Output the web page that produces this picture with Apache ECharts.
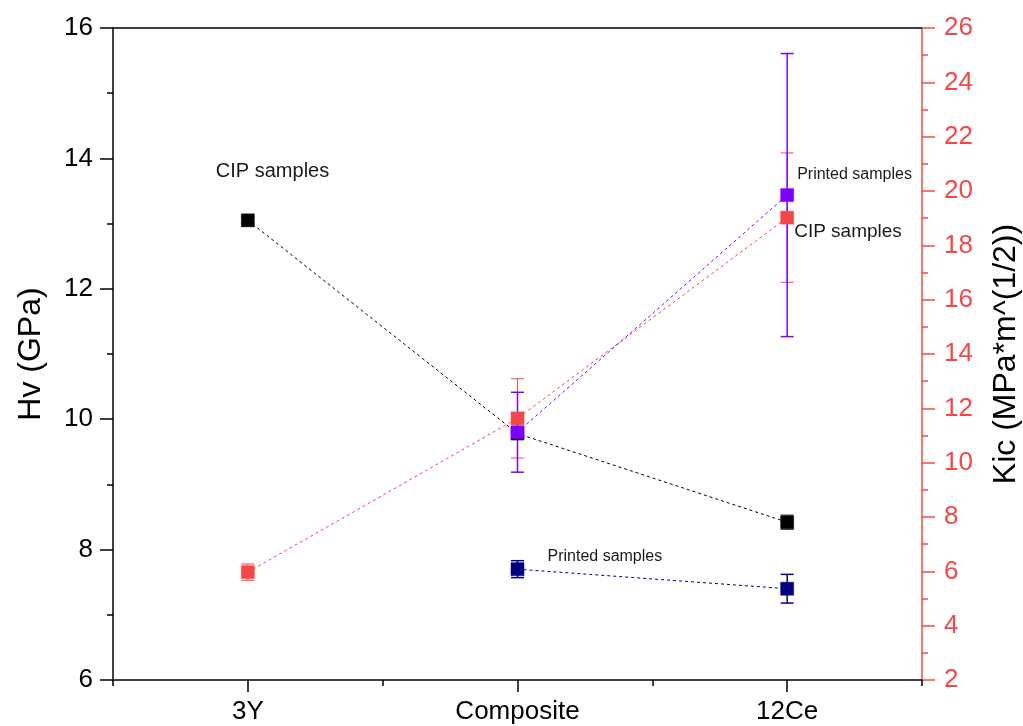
<!DOCTYPE html>
<html>
<head>
<meta charset="utf-8">
<script src="https://cdn.jsdelivr.net/npm/echarts@6/dist/echarts.min.js"></script>
<style>
  html, body { margin: 0; padding: 0; background: #fff; }
  #chart { width: 1023px; height: 726px; }
</style>
</head>
<body>
<div id="chart"></div>
<script>
// Sample groups along the x axis
const categories = ['3Y', 'Composite', '12Ce'];

// Vickers hardness Hv (GPa), left axis
const hvCip = [13.05, 9.78, 8.42];
const hvCipErr = [0.05, 0.08, 0.11];
const hvPrinted = [null, 7.70, 7.40];
const hvPrintedErr = [null, 0.13, 0.22];

// Fracture toughness Kic (MPa*m^(1/2)), right axis
const kicCip = [5.97, 11.63, 19.02];
const kicCipErr = [0.30, 1.46, 2.38];
const kicPrinted = [null, 11.12, 19.85];
const kicPrintedErr = [null, 1.47, 5.21];

// Axis ranges and tick steps
const hvRange = [6, 16, 2];
const kicRange = [2, 26, 2];

const FONT = 'Liberation Sans, Arial, sans-serif';
const C_BLACK = '#000000';
const C_NAVY = '#000080';
const C_RED = '#f44848';
const C_PURPLE = '#8000ff';

function errorBars(values, errs, yAxisIndex, color, width) {
  const data = [];
  values.forEach((v, i) => {
    if (v != null && errs[i] != null) data.push([i, v - errs[i], v + errs[i]]);
  });
  return {
    type: 'custom',
    xAxisIndex: 0,
    yAxisIndex: yAxisIndex,
    silent: true,
    z: 2,
    data: data,
    renderItem: function (params, api) {
      const x = api.value(0);
      const lo = api.coord([x, api.value(1)]);
      const hi = api.coord([x, api.value(2)]);
      const hw = 6.5;
      const style = { stroke: color, lineWidth: width, fill: null };
      return {
        type: 'group',
        children: [
          { type: 'line', shape: { x1: lo[0], y1: lo[1], x2: hi[0], y2: hi[1] }, style: style },
          { type: 'line', shape: { x1: lo[0] - hw, y1: lo[1], x2: lo[0] + hw, y2: lo[1] }, style: style },
          { type: 'line', shape: { x1: hi[0] - hw, y1: hi[1], x2: hi[0] + hw, y2: hi[1] }, style: style }
        ]
      };
    }
  };
}

function pointSeries(name, values, yAxisIndex, color, note) {
  const s = {
    name: name,
    type: 'line',
    xAxisIndex: 0,
    yAxisIndex: yAxisIndex,
    data: values,
    symbol: 'rect',
    symbolSize: 13,
    z: 3,
    itemStyle: { color: color, borderColor: color, borderWidth: 0.5 },
    lineStyle: { color: color, width: 1, type: [3, 3] },
    emphasis: { disabled: true },
    animation: false
  };
  if (note) {
    s.markPoint = {
      symbol: 'rect',
      symbolSize: 0,
      silent: true,
      data: [{
        coord: [categories[note.index], values[note.index]],
        label: {
          show: true,
          formatter: note.text,
          position: 'inside',
          align: 'left',
          verticalAlign: 'middle',
          offset: note.offset,
          color: '#1a1a1a',
          fontFamily: FONT,
          fontSize: note.size
        }
      }]
    };
  }
  return s;
}

const chart = echarts.init(document.getElementById('chart'), null, { renderer: 'canvas' });

const option = {
  backgroundColor: '#ffffff',
  animation: false,
  grid: { left: 113, right: 101, top: 28, bottom: 46, containLabel: false, outerBoundsMode: 'none' },
  xAxis: [
    {
      type: 'category',
      data: categories,
      boundaryGap: true,
      position: 'bottom',
      axisLine: { show: true, lineStyle: { color: C_BLACK, width: 1.5 } },
      axisTick: { show: true, alignWithLabel: true, length: 12, lineStyle: { color: C_BLACK, width: 1.5 } },
      axisLabel: { color: C_BLACK, fontFamily: FONT, fontSize: 26, margin: 19 },
      splitLine: { show: false }
    },
    {
      // short ticks on the band boundaries
      type: 'category',
      data: categories,
      boundaryGap: true,
      position: 'bottom',
      axisLine: { show: false },
      axisTick: { show: true, interval: 0, length: 6, lineStyle: { color: C_BLACK, width: 1.5 } },
      axisLabel: { show: false },
      splitLine: { show: false }
    },
    {
      // top frame line
      type: 'category',
      data: categories,
      position: 'top',
      axisLine: { show: true, lineStyle: { color: C_BLACK, width: 1.5 } },
      axisTick: { show: false },
      axisLabel: { show: false },
      splitLine: { show: false }
    }
  ],
  yAxis: [
    {
      type: 'value',
      position: 'left',
      min: hvRange[0], max: hvRange[1], interval: hvRange[2],
      name: 'Hv (GPa)',
      nameLocation: 'middle',
      nameRotate: 90,
      nameGap: 66,
      nameTextStyle: { color: C_BLACK, fontFamily: FONT, fontSize: 32 },
      axisLine: { show: true, lineStyle: { color: C_BLACK, width: 1.5 } },
      axisTick: { show: true, length: 13, lineStyle: { color: C_BLACK, width: 1.5 } },
      minorTick: { show: true, splitNumber: 2, length: 6, lineStyle: { color: C_BLACK, width: 1.5 } },
      axisLabel: { color: C_BLACK, fontFamily: FONT, fontSize: 26, margin: 20 },
      splitLine: { show: false }
    },
    {
      type: 'value',
      position: 'right',
      min: kicRange[0], max: kicRange[1], interval: kicRange[2],
      name: 'Kic (MPa*m^(1/2))',
      nameLocation: 'middle',
      nameRotate: 90,
      nameGap: 68,
      nameTextStyle: { color: C_BLACK, fontFamily: FONT, fontSize: 32 },
      axisLine: { show: true, lineStyle: { color: C_RED, width: 1.5 } },
      axisTick: { show: true, length: 13, lineStyle: { color: C_RED, width: 1.5 } },
      minorTick: { show: true, splitNumber: 2, length: 6, lineStyle: { color: C_RED, width: 1.5 } },
      axisLabel: { color: C_RED, fontFamily: FONT, fontSize: 26, margin: 22 },
      splitLine: { show: false }
    }
  ],
  series: [
    errorBars(hvCip, hvCipErr, 0, '#333333', 1),
    pointSeries('Hv CIP', hvCip, 0, C_BLACK,
      { index: 0, text: 'CIP samples', offset: [-32, -49], size: 20 }),
    errorBars(hvPrinted, hvPrintedErr, 0, C_NAVY, 1.5),
    pointSeries('Hv Printed', hvPrinted, 0, C_NAVY,
      { index: 1, text: 'Printed samples', offset: [30, -13], size: 16 }),
    errorBars(kicCip, kicCipErr, 1, C_RED, 1),
    pointSeries('Kic CIP', kicCip, 1, C_RED,
      { index: 2, text: 'CIP samples', offset: [7, 14], size: 19 }),
    errorBars(kicPrinted, kicPrintedErr, 1, C_PURPLE, 1.5),
    pointSeries('Kic Printed', kicPrinted, 1, C_PURPLE,
      { index: 2, text: 'Printed samples', offset: [10, -20], size: 16 })
  ]
};

chart.setOption(option);
</script>
</body>
</html>
